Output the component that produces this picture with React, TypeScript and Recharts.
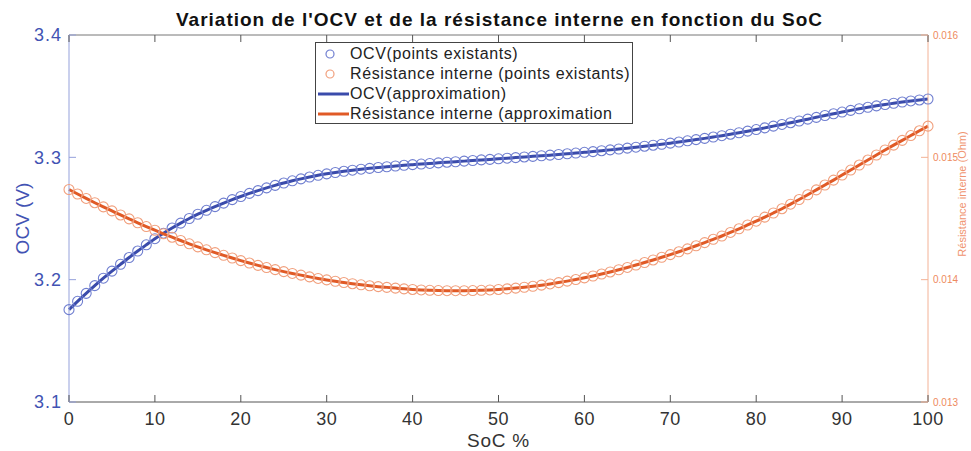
import { LineChart, Line, XAxis, YAxis, Legend, Label } from 'recharts';

const soc = [
  0, 1, 2, 3, 4, 5, 6, 7, 8, 9, 10, 11, 12, 13, 14, 15, 16, 17, 18, 19, 20,
  21, 22, 23, 24, 25, 26, 27, 28, 29, 30, 31, 32, 33, 34, 35, 36, 37, 38, 39, 40,
  41, 42, 43, 44, 45, 46, 47, 48, 49, 50, 51, 52, 53, 54, 55, 56, 57, 58, 59, 60,
  61, 62, 63, 64, 65, 66, 67, 68, 69, 70, 71, 72, 73, 74, 75, 76, 77, 78, 79, 80,
  81, 82, 83, 84, 85, 86, 87, 88, 89, 90, 91, 92, 93, 94, 95, 96, 97, 98, 99, 100,
];

const ocv = [
  3.1755, 3.1823, 3.1888, 3.1951, 3.2012, 3.207, 3.2126, 3.2181, 3.2234, 3.2285, 3.2335,
  3.238, 3.2422, 3.2462, 3.25, 3.2535, 3.2567, 3.2597, 3.2626, 3.2654, 3.268,
  3.2705, 3.2728, 3.275, 3.2771, 3.279, 3.2808, 3.2824, 3.2839, 3.2853, 3.2865,
  3.2876, 3.2886, 3.2895, 3.2903, 3.291, 3.2917, 3.2923, 3.2929, 3.2935, 3.294,
  3.2945, 3.295, 3.2955, 3.296, 3.2964, 3.2969, 3.2974, 3.2979, 3.2983, 3.2988,
  3.2993, 3.2998, 3.3003, 3.3008, 3.3013, 3.3018, 3.3023, 3.3029, 3.3035, 3.3041,
  3.3047, 3.3054, 3.3061, 3.3068, 3.3075, 3.3083, 3.3091, 3.3099, 3.3107, 3.3116,
  3.3125, 3.3135, 3.3145, 3.3155, 3.3166, 3.3177, 3.3189, 3.3201, 3.3214, 3.3227,
  3.3241, 3.3255, 3.3269, 3.3283, 3.3297, 3.3312, 3.3327, 3.3342, 3.3356, 3.337,
  3.3384, 3.3397, 3.3409, 3.3421, 3.3432, 3.3442, 3.3452, 3.3461, 3.3469, 3.3477,
];

const resistance = [
  0.014737, 0.0147, 0.014664, 0.014629, 0.014595, 0.014562, 0.014529, 0.014497, 0.014465, 0.014434, 0.014404,
  0.014375, 0.014347, 0.01432, 0.014293, 0.014268, 0.014244, 0.014221, 0.014199, 0.014177, 0.014156,
  0.014136, 0.014117, 0.014099, 0.014082, 0.014066, 0.014051, 0.014037, 0.014023, 0.01401, 0.013998,
  0.013987, 0.013977, 0.013967, 0.013958, 0.01395, 0.013943, 0.013937, 0.013931, 0.013925, 0.01392,
  0.013916, 0.013913, 0.013911, 0.01391, 0.01391, 0.01391, 0.013911, 0.013913, 0.013916, 0.01392,
  0.013925, 0.013931, 0.013938, 0.013946, 0.013955, 0.013965, 0.013976, 0.013988, 0.014001, 0.014015,
  0.01403, 0.014046, 0.014063, 0.014081, 0.0141, 0.01412, 0.01414, 0.014161, 0.014183, 0.014205,
  0.014228, 0.014252, 0.014277, 0.014303, 0.01433, 0.014357, 0.014386, 0.014416, 0.014447, 0.014478,
  0.014511, 0.014545, 0.01458, 0.014617, 0.014655, 0.014694, 0.014734, 0.014774, 0.014814, 0.014855,
  0.014896, 0.014937, 0.014978, 0.015019, 0.01506, 0.0151, 0.015139, 0.015178, 0.015217, 0.015255,
];

const socTicks = [0, 10, 20, 30, 40, 50, 60, 70, 80, 90, 100];
const ocvTicks = [3.1, 3.2, 3.3, 3.4];
const resTicks = [0.013, 0.014, 0.015, 0.016];

const data = soc.map((s, i) => ({ soc: s, ocv: ocv[i], res: resistance[i] }));

const BLUE = '#3a4bab';
const BLUE_MARK = '#6f7ed0';
const BLUE_AXIS = '#95a1db';
const ORANGE = '#e05a26';
const ORANGE_MARK = '#f19f7c';
const ORANGE_AXIS = '#f3b296';
const FONT = '"Liberation Sans", Arial, Helvetica, sans-serif';

const legendItems = [
  { label: 'OCV(points existants)', color: BLUE_MARK, kind: 'circle' },
  { label: 'Résistance interne (points existants)', color: ORANGE_MARK, kind: 'circle' },
  { label: 'OCV(approximation)', color: BLUE, kind: 'line' },
  { label: 'Résistance interne (approximation', color: ORANGE, kind: 'line' },
];

const LegendBox = () => (
  <div
    style={{
      border: '1px solid #444',
      background: '#fff',
      width: 318,
      height: 82,
      boxSizing: 'border-box',
      paddingTop: 1,
      fontFamily: FONT,
      fontSize: 16,
      letterSpacing: 0.6,
      color: '#222',
    }}
  >
    {legendItems.map((item) => (
      <div key={item.label} style={{ display: 'flex', alignItems: 'center', height: 20 }}>
        <svg width={34} height={20}>
          {item.kind === 'circle' ? (
            <circle cx={14} cy={10} r={4} fill="none" stroke={item.color} strokeWidth={1.2} />
          ) : (
            <line x1={2} x2={33} y1={10} y2={10} stroke={item.color} strokeWidth={3} />
          )}
        </svg>
        <span style={{ whiteSpace: 'nowrap' }}>{item.label}</span>
      </div>
    ))}
  </div>
);

const BottomTick = ({ x, y, payload }: any) => (
  <g>
    <line x1={x} x2={x} y1={y - 6} y2={y - 13} stroke="#555" />
    <text x={x} y={y + 17} textAnchor="middle" fontSize={18} letterSpacing={0.5} fill="#333" fontFamily={FONT}>
      {payload.value}
    </text>
  </g>
);

const TopTick = ({ x, y }: any) => <line x1={x} x2={x} y1={y} y2={y + 7} stroke="#555" />;

const LeftTick = ({ x, y, payload }: any) => (
  <g>
    <line x1={x + 7} x2={x + 14} y1={y} y2={y} stroke={BLUE_AXIS} />
    <text x={x} y={y} dy="0.36em" textAnchor="end" fontSize={18} letterSpacing={1} fill="#4253b3" fontFamily={FONT}>
      {payload.value.toFixed(1)}
    </text>
  </g>
);

const RightTick = ({ x, y, payload }: any) => (
  <g>
    <line x1={x - 5} x2={x - 12} y1={y} y2={y} stroke={ORANGE_AXIS} />
    <text x={x} y={y} dy="0.36em" textAnchor="start" fontSize={10} fill="#ee8a5e" fontFamily={FONT}>
      {payload.value.toFixed(3)}
    </text>
  </g>
);

const RightLabel = () => (
  <text
    x={966}
    y={194}
    transform="rotate(-90, 966, 194)"
    textAnchor="middle"
    fontSize={11}
    fill="#f09470"
    fontFamily={FONT}
  >
    Résistance interne (Ohm)
  </text>
);

export default function App() {
  return (
    <div style={{ position: 'absolute', left: 0, top: 0, width: 971, height: 451, background: '#fff' }}>
      <div
        style={{
          position: 'absolute',
          left: 0,
          top: 9,
          width: 999,
          textAlign: 'center',
          fontFamily: FONT,
          fontSize: 19,
          letterSpacing: 1,
          lineHeight: '22px',
          fontWeight: 'bold',
          color: '#111',
          whiteSpace: 'nowrap',
        }}
      >
        Variation de l'OCV et de la résistance interne en fonction du SoC
      </div>
      <LineChart width={971} height={451} data={data} margin={{ top: 34, right: 3, left: 9, bottom: 19 }}>
        <XAxis
          dataKey="soc"
          type="number"
          domain={[0, 100]}
          ticks={socTicks}
          height={30}
          tickSize={0}
          tickMargin={6}
          tick={<BottomTick />}
          axisLine={{ stroke: '#555' }}
        >
          <Label
            value="SoC %"
            position="bottom"
            offset={2}
            style={{ fontSize: 19, letterSpacing: 0.8, fill: '#333', fontFamily: FONT }}
          />
        </XAxis>
        <XAxis
          xAxisId="top"
          dataKey="soc"
          type="number"
          orientation="top"
          domain={[0, 100]}
          ticks={socTicks}
          height={1}
          tickSize={0}
          tickMargin={0}
          tick={<TopTick />}
          axisLine={{ stroke: '#777' }}
        />
        <YAxis
          yAxisId="left"
          domain={[3.1, 3.4]}
          ticks={ocvTicks}
          width={60}
          tickSize={0}
          tickMargin={7}
          tick={<LeftTick />}
          axisLine={{ stroke: BLUE_AXIS }}
        >
          <Label
            value="OCV (V)"
            angle={-90}
            position="insideLeft"
            offset={13}
            style={{ textAnchor: 'middle', fontSize: 19, fill: '#4253b3', fontFamily: FONT }}
          />
        </YAxis>
        <YAxis
          yAxisId="right"
          orientation="right"
          domain={[0.013, 0.016]}
          ticks={resTicks}
          width={40}
          tickSize={0}
          tickMargin={5}
          tick={<RightTick />}
          axisLine={{ stroke: ORANGE_AXIS }}
        >
          <Label content={<RightLabel />} />
        </YAxis>
        <Legend
          layout="vertical"
          align="center"
          verticalAlign="middle"
          content={<LegendBox />}
          wrapperStyle={{ left: 315, top: 42, width: 318, height: 82 }}
        />
        <Line
          yAxisId="left"
          dataKey="ocv"
          stroke="none"
          dot={{ r: 5, stroke: BLUE_MARK, strokeWidth: 1.1, fill: 'none' }}
          activeDot={false}
          isAnimationActive={false}
        />
        <Line
          yAxisId="right"
          dataKey="res"
          stroke="none"
          dot={{ r: 5, stroke: ORANGE_MARK, strokeWidth: 1.1, fill: 'none' }}
          activeDot={false}
          isAnimationActive={false}
        />
        <Line
          yAxisId="left"
          dataKey="ocv"
          type="monotone"
          stroke={BLUE}
          strokeWidth={3}
          dot={false}
          activeDot={false}
          isAnimationActive={false}
        />
        <Line
          yAxisId="right"
          dataKey="res"
          type="monotone"
          stroke={ORANGE}
          strokeWidth={3}
          dot={false}
          activeDot={false}
          isAnimationActive={false}
        />
      </LineChart>
    </div>
  );
}
